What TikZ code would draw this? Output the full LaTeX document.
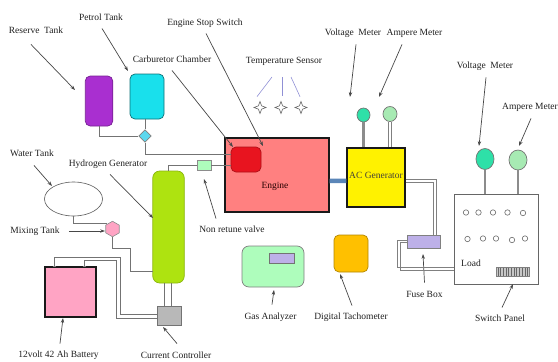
\documentclass[tikz,border=0pt]{standalone}
\usepackage{fontspec}
\setmainfont{Liberation Serif}
\usetikzlibrary{positioning,arrows.meta,calc,shapes.geometric}
\definecolor{tankpurple}{HTML}{A92FD0}
\definecolor{tankcyan}{HTML}{19E0EC}
\definecolor{valvecyan}{HTML}{5CD8EE}
\definecolor{chamberred}{HTML}{E8141F}
\definecolor{enginered}{HTML}{FF8080}
\definecolor{genlime}{HTML}{AEE310}
\definecolor{pinkfill}{HTML}{FFA4C4}
\definecolor{mintfill}{HTML}{AEFDBC}
\definecolor{voltgreen}{HTML}{2EE0A8}
\definecolor{lilac}{HTML}{BDB0E8}
\definecolor{tachorange}{HTML}{FFC000}
\definecolor{shaftblue}{HTML}{5B86B8}
\begin{document}
\begin{tikzpicture}[x=1pt, y=-1pt, font=\fontsize{9.5}{10}\selectfont,
  lbl/.style={inner sep=1pt, text height=7pt, text depth=2.5pt, text=black!88},
  part/.style={draw=black!60, line width=.7pt, rounded corners=5pt, inner sep=0pt},
  heavy/.style={draw=black!90, line width=1.3pt, inner sep=0pt},
  arr/.style={-{Stealth[length=1.7mm,width=1.2mm]}, draw=black!72, line width=.7pt},
  pipe/.style={draw=black!55, line width=.9pt},
  wire/.style={draw=black!50, line width=.8pt},
  stem/.style={draw=black!45, line width=2.4pt},
  gauge/.style={ellipse, draw=black!55, line width=.7pt, inner sep=0pt},
  sensor/.style={star, star points=4, star point ratio=2.6, draw=black!60, line width=.6pt, fill=white, minimum size=12pt, inner sep=0pt},
  sensorline/.style={draw=blue!45!gray!60, line width=.6pt}]
\useasboundingbox (0,0) rectangle (558,362);
% tanks
\node[part, fill=tankpurple, draw=tankpurple!70!black, minimum width=27.5pt, minimum height=50pt] (reserve) at (99,101) {};
\node[part, fill=tankcyan, draw=tankcyan!50!black, minimum width=34pt, minimum height=45pt] (petrol) at (147,96.5) {};
\node[diamond, fill=valvecyan, draw=black!50, line width=.6pt, minimum size=12.5pt, inner sep=0pt] (fuelvalve) at (145,136) {};
\node[ellipse, draw=black!65, line width=.6pt, minimum width=58pt, minimum height=34pt, inner sep=0pt] (water) at (73.5,199) {};
\node[regular polygon, regular polygon sides=6, shape border rotate=30, fill=pinkfill, draw=black!45, line width=.6pt, minimum size=15.5pt, inner sep=0pt] (mixing) at (112.5,229) {};
\node[part, fill=genlime, draw=genlime!80!black, rounded corners=7pt, minimum width=31.5pt, minimum height=112pt] (hydrogen) at (168.5,227) {};
\node[heavy, fill=pinkfill, minimum width=51pt, minimum height=50pt] (battery) at (70.5,292) {};
\node[fill=black!50, minimum width=3pt, minimum height=1.5pt, inner sep=0pt] (terma) at (54,266.5) {};
\node[fill=black!50, minimum width=3pt, minimum height=1.5pt, inner sep=0pt] (termb) at (84.5,266.5) {};
\node[draw=black!55, fill=black!28, line width=.7pt, minimum width=24.5pt, minimum height=19pt, inner sep=0pt] (controller) at (169.5,315.5) {};
% engine and generator
\node[heavy, fill=enginered, minimum width=104pt, minimum height=74pt] (engine) at (277,175) {};
\node[part, fill=chamberred, draw=chamberred!75!black, rounded corners=5pt, minimum width=30pt, minimum height=25pt] (chamber) at (246,159.5) {};
\node[text=black!85!red, inner sep=1pt] (enginelbl) at (275,186) {Engine};
\node[heavy, fill=yellow, minimum width=58pt, minimum height=59pt] (acgen) at (376,177.5) {};
\node[text=black!85!yellow, inner sep=1pt] (acgenlbl) at (376,175) {AC Generator};
\node[draw=black!45, fill=mintfill, line width=.6pt, minimum width=14pt, minimum height=10pt, inner sep=0pt] (nrvalve) at (204,165) {};
\node[gauge, fill=voltgreen, minimum width=13pt, minimum height=14pt] (voltsmall) at (363.5,115) {};
\node[gauge, fill=mintfill!85!gray, minimum width=14pt, minimum height=15pt] (ampsmall) at (390,114) {};
\node[sensor] (senseb) at (260,107.5) {};
\node[sensor] (sensec) at (281,107.5) {};
\node[sensor] (sensed) at (301,107.5) {};
% panel side
\node[draw=black!60, line width=.7pt, minimum width=84pt, minimum height=90pt, inner sep=0pt] (panel) at (496,239) {};
\node[gauge, fill=voltgreen, minimum width=18pt, minimum height=21pt] (voltbig) at (485,159) {};
\node[gauge, fill=mintfill!85!gray, minimum width=18pt, minimum height=20pt] (ampbig) at (518,160) {};
\node[draw=black!50, fill=lilac, line width=.7pt, minimum width=33pt, minimum height=13pt, inner sep=0pt] (fuse) at (423.5,241.5) {};
\node[part, fill=mintfill, draw=black!50, rounded corners=7pt, minimum width=62pt, minimum height=41pt] (gasbox) at (273,266.5) {};
\node[draw=black!55, fill=lilac, line width=.7pt, minimum width=25pt, minimum height=10pt, inner sep=0pt] (gasscreen) at (281.5,258) {};
\node[part, fill=tachorange, draw=tachorange!70!black, minimum width=34pt, minimum height=37pt] (tacho) at (351,253.5) {};
\node[lbl] (loadlbl) at (471,264) {Load};
\node[draw=black!50, fill=black!22, line width=.5pt, minimum width=33pt, minimum height=9pt, inner sep=0pt] (chip) at (513,271.5) {};
\foreach \x in {0,...,11} \draw[black!60, line width=.5pt] ($(chip.west)+(1.5+\x*2.7,-4)$) -- ++(0,8);
\foreach \x/\y in {466/212.5,478.5/212.5,493/212.5,507.5/212.5,523/213,467.5/239,483/238.5,496/238.5,512/240,525/238.5} \draw[black!60, fill=white, line width=.6pt] (\x,\y) circle (2.7);
% labels
\node[lbl] (lblreserve) at (36,31) {Reserve\ \ Tank};
\node[lbl] (lblpetrol) at (101,18) {Petrol Tank};
\node[lbl] (lblstop) at (205,23) {Engine Stop Switch};
\node[lbl] (lblcarb) at (172,60) {Carburetor Chamber};
\node[lbl] (lbltemp) at (284,61) {Temperature Sensor};
\node[lbl] (lblvolta) at (353,33) {Voltage\ \ Meter};
\node[lbl] (lblampa) at (414.5,33) {Ampere Meter};
\node[lbl] (lblvoltb) at (485,66) {Voltage\ \ Meter};
\node[lbl] (lblampb) at (530,107) {Ampere Meter};
\node[lbl] (lblwater) at (32,154) {Water Tank};
\node[lbl] (lblhydro) at (108,164) {Hydrogen Generator};
\node[lbl] (lblmix) at (35,231) {Mixing Tank};
\node[lbl] (lblnrv) at (232,230) {Non retune valve};
\node[lbl] (lblbatt) at (58.5,355) {12volt 42 Ah Battery};
\node[lbl] (lblctrl) at (176,356) {Current Controller};
\node[lbl] (lblgas) at (270.5,317) {Gas Analyzer};
\node[lbl] (lbltach) at (351,317) {Digital Tachometer};
\node[lbl] (lblfuse) at (424.5,295) {Fuse Box};
\node[lbl] (lblswitch) at (500,319) {Switch Panel};
% arrow tips
\coordinate (tipreserve) at (75,90);
\coordinate (tippetrol) at (128,71);
\coordinate (tipstop) at (263,146);
\coordinate (tipcarb) at (233,147);
\coordinate (tipvolta) at (350,97);
\coordinate (tipampa) at (379,97);
\coordinate (tipvoltb) at (479,146);
\coordinate (tipampb) at (519,146);
\coordinate (tipwater) at (52,186);
\coordinate (tiphydro) at (153,218);
\coordinate (tipmix) at (105,231);
\coordinate (tipnrv) at (204,179);
\coordinate (tipbatt) at (63,318);
\coordinate (tipctrl) at (163,327);
\coordinate (tipgas) at (274,290);
\coordinate (tiptach) at (340,274);
\coordinate (tipfuse) at (423,254);
\coordinate (tipswitch) at (513,284);
\foreach \a/\dx/\dy/\b in {lblreserve/-5/7.5/tipreserve, lblpetrol/1/4.5/tippetrol, lblstop/1/4.5/tipstop, lblcarb/0/4.5/tipcarb, lblvolta/3/5.5/tipvolta, lblampa/-12.5/5.5/tipampa, lblvoltb/1/5.5/tipvoltb, lblampb/1/5.5/tipampb, lblwater/2/5.5/tipwater, lblhydro/2/4.5/tiphydro} \draw[arr] ([xshift=\dx pt,yshift=-\dy pt]\a.south) -- (\b);
\foreach \a/\dx/\dy/\b in {lblnrv/-16/5.5/tipnrv, lblbatt/1.5/5.5/tipbatt, lblctrl/1/6.5/tipctrl, lblgas/1.5/6.5/tipgas, lbltach/1/5.5/tiptach, lblfuse/0/6.5/tipfuse, lblswitch/2/5.5/tipswitch} \draw[arr] ([xshift=\dx pt,yshift=\dy pt]\a.north) -- (\b);
\draw[arr] ([xshift=8pt]lblmix.east) -- (tipmix);
% sensor leads
\coordinate (leadb) at (272,77); \coordinate (leadc) at (282,77); \coordinate (leadd) at (291,77);
\draw[sensorline] (leadb) -- ([xshift=-3pt,yshift=4pt]senseb.north);
\draw[sensorline] (leadc) -- ([xshift=1pt,yshift=5pt]sensec.north);
\draw[sensorline] (leadd) -- ([xshift=-1pt,yshift=4pt]sensed.north);
% fuel and water pipes
\draw[pipe] (reserve.south) |- (fuelvalve.west);
\draw[pipe] (fuelvalve.north) -- (fuelvalve.north |- petrol.south);
\draw[pipe] (fuelvalve.south) |- ([yshift=5.5pt]chamber.west);
\draw[pipe] (nrvalve.east) -- (chamber.west |- nrvalve.east);
\draw[pipe] (nrvalve.west) -| (hydrogen.north);
\coordinate (mixbend) at (130,248);
\coordinate (geninlet) at (153,271);
\draw[pipe] (water.south) |- (mixing.135);
\draw[pipe] (mixing.south) |- (mixbend) |- (geninlet);
% battery wiring
\coordinate (wirea) at (120.5,257.5);
\coordinate (wireb) at (116.5,260.5);
\draw[pipe] (terma.north) |- (wirea) |- ([yshift=1.5pt]controller.west);
\draw[pipe] (termb.north) |- (wireb) |- ([yshift=-3.2pt]controller.west);
\draw[pipe] ([xshift=-4pt]hydrogen.south) -- ([xshift=-4pt]hydrogen.south |- controller.north);
\draw[pipe] ([xshift=3pt]hydrogen.south) -- ([xshift=3pt]hydrogen.south |- controller.north);
% output lines, stems, shaft
\draw[wire] ([yshift=1.2pt]fuse.west) -- ++(-9.5,0) |- ([yshift=-28pt]panel.west);
\draw[wire] ([yshift=-1.2pt]fuse.west) -- ++(-6.5,0) |- ([yshift=-31pt]panel.west);
\draw[wire] ([yshift=-2pt]acgen.east) -| ([xshift=13pt]fuse.north);
\draw[wire] ([yshift=-5pt]acgen.east) -| ([xshift=10pt]fuse.north);
\foreach \d in {-1.5,1.5} \draw[wire] ([xshift=\d pt]ampsmall.south) -- ([xshift=\d pt]ampsmall.south |- acgen.north);
\draw[stem] (voltsmall.south) -- (voltsmall.south |- acgen.north);
\draw[stem] (voltbig.south) -- (voltbig.south |- panel.north);
\draw[stem] (ampbig.south) -- (ampbig.south |- panel.north);
\draw[shaftblue, line width=4.5pt] ([yshift=-6pt]engine.east) -- ([yshift=-3.3pt]acgen.west);
\end{tikzpicture}
\end{document}
